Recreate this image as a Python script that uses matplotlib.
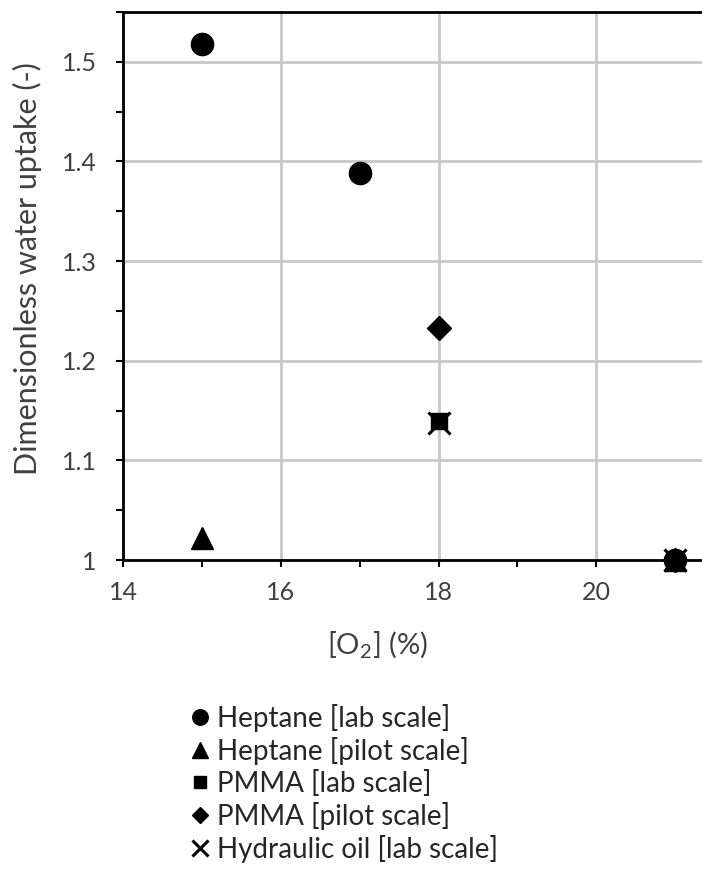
import matplotlib
matplotlib.use("Agg")
import matplotlib.pyplot as plt
from matplotlib.ticker import MultipleLocator

plt.rcParams['font.family'] = ['Lato', 'DejaVu Sans']
plt.rcParams['mathtext.fontset'] = 'custom'
plt.rcParams['mathtext.rm'] = 'Lato'

# data
heptane_lab_x = [15, 17, 21]
heptane_lab_y = [1.518, 1.388, 1.0]
heptane_pilot_x = [15, 21]
heptane_pilot_y = [1.022, 1.0]
pmma_lab_x = [18, 21]
pmma_lab_y = [1.140, 1.0]
pmma_pilot_x = [18, 21]
pmma_pilot_y = [1.233, 1.0]
oil_lab_x = [18, 21]
oil_lab_y = [1.137, 1.0]

series = [
    (heptane_lab_x, heptane_lab_y, 'o', 16, 'Heptane [lab scale]'),
    (heptane_pilot_x, heptane_pilot_y, '^', 16, 'Heptane [pilot scale]'),
    (pmma_lab_x, pmma_lab_y, 's', 12, 'PMMA [lab scale]'),
    (pmma_pilot_x, pmma_pilot_y, 'D', 12, 'PMMA [pilot scale]'),
    (oil_lab_x, oil_lab_y, 'x', 16, 'Hydraulic oil [lab scale]'),
]

fig = plt.figure(figsize=(7.02, 8.93), dpi=100)
ax = fig.add_axes([123/702, 1-560/893, 1-123/702, (560-12)/893])

for x, y, m, s, lab in series:
    if m == 'x':
        ax.plot(x, y, linestyle='none', marker=m, markersize=s, color='black',
                markeredgewidth=2.2, label=lab, clip_on=False, zorder=3)
    else:
        ax.plot(x, y, linestyle='none', marker=m, markersize=s, color='black',
                label=lab, clip_on=False, zorder=3)

ax.set_xlim(14, 21.34)
ax.set_ylim(1.0, 1.55)
ax.xaxis.set_major_locator(MultipleLocator(2))
ax.xaxis.set_minor_locator(MultipleLocator(1))
ax.yaxis.set_minor_locator(MultipleLocator(0.05))
ax.set_yticks([1.0, 1.1, 1.2, 1.3, 1.4, 1.5])
ax.set_yticklabels(['1', '1.1', '1.2', '1.3', '1.4', '1.5'])
ax.grid(True, which='major', color='#c8c8c8', linewidth=2)
ax.set_axisbelow(True)

for side in ['left', 'bottom', 'top']:
    ax.spines[side].set_linewidth(2)
    ax.spines[side].set_color('black')
ax.spines['right'].set_visible(False)

ax.tick_params(which='both', direction='out', width=1.5, length=5, color='black',
               labelsize=18, labelcolor='#404040')
ax.tick_params(axis='x', pad=10)
ax.tick_params(axis='y', pad=14)

fig.text(27/702, 1-269/893, 'Dimensionless water uptake (-)', fontsize=22,
         color='#404040', rotation=90, ha='center', va='center')
fig.text(378/702, 1-645/893, '[O$_2$] (%)', fontsize=21, color='#404040',
         ha='center', va='center')

h, l = ax.get_legend_handles_labels()
leg = fig.legend(h, l, loc='upper left', bbox_to_anchor=(192/702, 1-704/893),
                 frameon=False, fontsize=20, markerscale=0.7, handlelength=0.6,
                 handletextpad=0.3, labelspacing=0.18, borderpad=0,
                 borderaxespad=0)
for t in leg.get_texts():
    t.set_color('#262626')

fig.savefig('out.png', dpi=100)
